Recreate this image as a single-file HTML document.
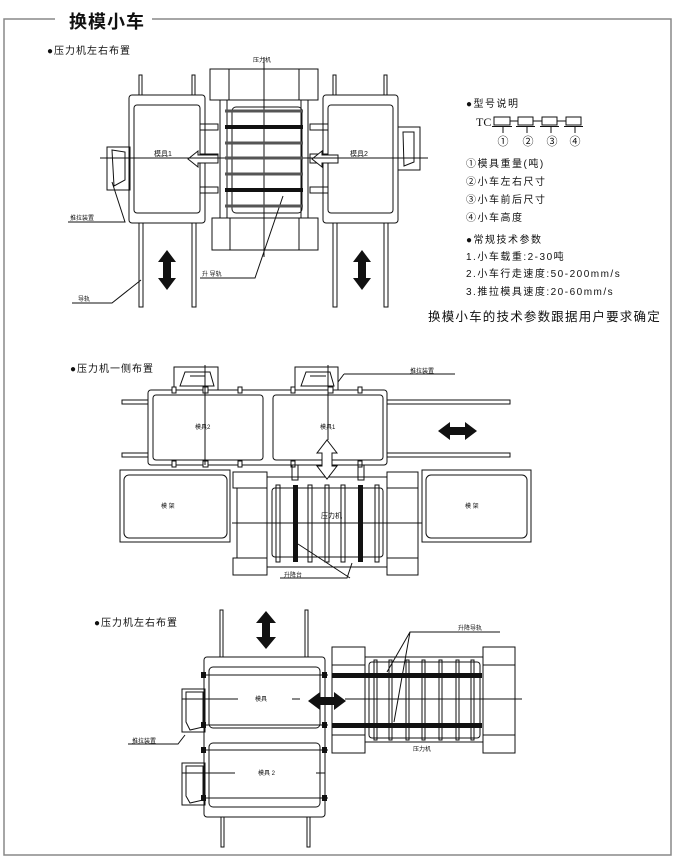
<!DOCTYPE html>
<html><head><meta charset="utf-8"><style>
html,body{margin:0;padding:0;background:#fff;}
svg{display:block;}
text{font-family:"Liberation Sans","Noto Sans CJK SC",sans-serif;fill:#111;}
</style></head><body>
<svg width="676" height="862" viewBox="0 0 676 862" xmlns="http://www.w3.org/2000/svg">
<g fill="none" stroke="#888" stroke-width="1.5">
<path d="M55 19 H4 V855 H671 V19 H152"/>
</g>
<text x="69" y="28" font-size="18" font-weight="bold" letter-spacing="1">换模小车</text>

<!-- ================= Diagram 1 ================= -->
<text x="47" y="54" font-size="10" letter-spacing="1">●压力机左右布置</text>
<g fill="none" stroke="#111" stroke-width="1">
<rect x="139" y="75" width="3" height="20"/><rect x="192" y="75" width="3" height="20"/>
<rect x="139" y="223" width="4" height="84"/><rect x="192" y="223" width="4" height="84"/>
<rect x="129" y="95" width="76" height="128" rx="3"/>
<rect x="134" y="105" width="66" height="108" rx="3"/>
<rect x="333" y="75" width="3" height="20"/><rect x="384" y="75" width="3" height="20"/>
<rect x="333" y="223" width="4" height="84"/><rect x="384" y="223" width="4" height="84"/>
<rect x="323" y="95" width="75" height="128" rx="3"/>
<rect x="328" y="105" width="65" height="108" rx="3"/>
<path d="M107 147 H130 V190 H107 Z M112 150 L125 152 V180 L114 186 Z"/>
<path d="M398 127 H420 V170 H398 Z M403 132 H414 V162 L404 166 Z"/>
<rect x="210" y="69" width="108" height="31"/>
<rect x="210" y="69" width="19" height="31"/><rect x="299" y="69" width="19" height="31"/>
<rect x="212" y="218" width="106" height="32"/>
<rect x="212" y="218" width="18" height="32"/><rect x="299" y="218" width="19" height="32"/>
<rect x="220" y="100" width="7" height="118"/><rect x="301" y="100" width="7" height="118"/>
<rect x="232" y="107" width="70" height="106" rx="4"/>
<rect x="200" y="124" width="18" height="6"/><rect x="200" y="187" width="18" height="6"/>
<rect x="310" y="124" width="18" height="6"/><rect x="310" y="187" width="18" height="6"/>
<rect x="200" y="154" width="18" height="9"/><rect x="310" y="154" width="18" height="9"/>
<path d="M218 155 H198 V151 L188 159 L198 167 V163 H218 Z" fill="#fff"/>
<path d="M338 155 H322 V151 L312 159 L322 167 V163 H338 Z" fill="#fff"/>
<path d="M100 158 H428 M264 57 V257"/>
<path d="M112 182 L125 222 H68 M141 280 L112 303 H72 M283 196 L255 278 H200"/>
</g>
<g stroke="#555" stroke-width="3"><path d="M225 111 H303 M225 143 H303 M225 174 H303 M225 206 H303 M225 158 H303"/></g>
<g stroke="#111" stroke-width="4"><path d="M225 127 H303 M225 190 H303"/></g>
<path d="M167 250 L176 262 H171 V278 H176 L167 290 L158 278 H163 V262 H158 Z" fill="#111"/>
<path d="M362 250 L371 262 H366 V278 H371 L362 290 L353 278 H358 V262 H353 Z" fill="#111"/>
<text x="253" y="62" font-size="6">压力机</text>
<text x="154" y="156" font-size="7">模具1</text>
<text x="350" y="156" font-size="7">模具2</text>
<text x="70" y="220" font-size="6">推拉装置</text>
<text x="78" y="301" font-size="6">导轨</text>
<text x="202" y="276" font-size="6">升  导轨</text>

<!-- info panel -->
<g font-size="10" letter-spacing="1.5">
<text x="466" y="107">●型号说明</text>
<text x="466" y="167">①模具重量(吨)</text>
<text x="466" y="185">②小车左右尺寸</text>
<text x="466" y="203">③小车前后尺寸</text>
<text x="466" y="221">④小车高度</text>
<text x="466" y="243">●常规技术参数</text>
<text x="466" y="260">1.小车载重:2-30吨</text>
<text x="466" y="277">2.小车行走速度:50-200mm/s</text>
<text x="466" y="295">3.推拉模具速度:20-60mm/s</text>
</g>
<text x="476" y="126" font-size="12" style="font-family:'Liberation Serif',serif">TC</text>
<text x="428" y="321" font-size="12.5" letter-spacing="1.2">换模小车的技术参数跟据用户要求确定</text>
<g fill="none" stroke="#111" stroke-width="1">
<rect x="494" y="117" width="16" height="8"/><rect x="518" y="117" width="15" height="8"/><rect x="542" y="117" width="15" height="8"/><rect x="566" y="117" width="15" height="8"/>
<path d="M492 126.5 H512 M516 126.5 H535 M540 126.5 H559 M564 126.5 H583"/>
<path d="M510 121 h8 M533 121 h9 M557 121 h9"/>
<path d="M503 127 v6 M527 127 v6 M551 127 v6 M575 127 v6"/>
</g>
<g font-size="11" text-anchor="middle" style="font-family:'DejaVu Sans',sans-serif"><text x="503" y="145">①</text><text x="528" y="145">②</text><text x="552" y="145">③</text><text x="575" y="145">④</text></g>

<!-- ================= Diagram 2 ================= -->
<text x="70" y="372" font-size="10" letter-spacing="1">●压力机一侧布置</text>
<g fill="none" stroke="#111" stroke-width="1">
<rect x="122" y="400" width="26" height="4"/><rect x="122" y="453" width="26" height="4"/>
<rect x="387" y="400" width="123" height="4"/><rect x="387" y="453" width="123" height="4"/>
<rect x="148" y="390" width="239" height="75" rx="3"/>
<rect x="153" y="395" width="110" height="65" rx="3"/>
<rect x="273" y="395" width="110" height="65" rx="3"/>
<rect x="174" y="367" width="44" height="23"/><path d="M180 386 L185 372 H210 L214 386 Z M190 376 H205"/>
<rect x="295" y="367" width="43" height="23"/><path d="M301 386 L306 372 H330 L334 386 Z M310 376 H326"/>
<g fill="#fff"><rect x="172" y="387" width="4" height="6"/><rect x="203" y="387" width="5" height="6"/><rect x="238" y="387" width="4" height="6"/><rect x="291" y="387" width="4" height="6"/><rect x="328" y="387" width="5" height="6"/><rect x="358" y="387" width="4" height="6"/>
<rect x="172" y="461" width="4" height="6"/><rect x="203" y="461" width="5" height="6"/><rect x="238" y="461" width="4" height="6"/><rect x="291" y="461" width="4" height="6"/><rect x="358" y="461" width="4" height="6"/></g>
<rect x="292" y="465" width="6" height="15"/><rect x="358" y="465" width="6" height="15"/>
<path d="M205 365 V465 M328 365 V440"/>
<rect x="120" y="470" width="110" height="72"/><rect x="124" y="475" width="103" height="63" rx="5"/>
<rect x="422" y="470" width="109" height="72"/><rect x="426" y="475" width="101" height="63" rx="5"/>
<rect x="233" y="472" width="34" height="16"/><rect x="233" y="558" width="34" height="17"/><rect x="237" y="488" width="30" height="70"/>
<rect x="387" y="472" width="31" height="16"/><rect x="387" y="558" width="31" height="17"/><rect x="387" y="488" width="31" height="70"/>
<rect x="267" y="477" width="120" height="90"/>
<rect x="272" y="488" width="111" height="69" rx="3"/>
<path d="M232 523 H422"/>
<g><rect x="276" y="485" width="4" height="77"/><rect x="308" y="485" width="4" height="77"/><rect x="325" y="485" width="4" height="77"/><rect x="341" y="485" width="4" height="77"/><rect x="375" y="485" width="4" height="77"/></g>
<path d="M327 440 L337 453 H332 V466 H337 L327 479 L317 466 H322 V453 H317 Z" fill="#fff"/>
<path d="M344 374 L338 382 M344 374 H455 M298 544 L350 578 M352 563 L347 578 H280"/>
</g>
<rect x="293" y="485" width="5" height="77" fill="#111"/><rect x="358" y="485" width="5" height="77" fill="#111"/>
<path d="M438 431 L450 422 V427 H465 V422 L477 431 L465 440 V435 H450 V440 Z" fill="#111"/>
<text x="195" y="429" font-size="6">模具2</text>
<text x="320" y="429" font-size="6">模具1</text>
<text x="161" y="508" font-size="6">模 架</text>
<text x="465" y="508" font-size="6">模 架</text>
<text x="321" y="518" font-size="7">压力机</text>
<text x="284" y="577" font-size="6">升降台</text>
<text x="410" y="373" font-size="6">推拉装置</text>

<!-- ================= Diagram 3 ================= -->
<text x="94" y="626" font-size="10" letter-spacing="1">●压力机左右布置</text>
<g fill="none" stroke="#111" stroke-width="1">
<rect x="220" y="610" width="3" height="47"/><rect x="305" y="610" width="3" height="47"/>
<rect x="221" y="817" width="3" height="30"/><rect x="307" y="817" width="3" height="30"/>
<rect x="204" y="657" width="121" height="160" rx="3"/>
<rect x="209" y="667" width="111" height="61" rx="4"/>
<rect x="209" y="743" width="111" height="64" rx="4"/>
<path d="M201 675 H328 M201 725 H328 M201 750 H328 M201 798 H328"/>
<rect x="182" y="689" width="23" height="43"/><path d="M186 692 H203 V727 L190 730 L186 722 Z"/>
<rect x="182" y="763" width="23" height="42"/><path d="M186 766 H203 V800 L190 803 L186 796 Z"/>
<path d="M182 699 H238 M292 699 H300 M345 699 H522 M182 773 H235 M316 773 H325"/>
<rect x="332" y="647" width="33" height="18"/><rect x="332" y="735" width="33" height="18"/><rect x="332" y="665" width="33" height="70"/>
<rect x="483" y="647" width="32" height="18"/><rect x="483" y="735" width="32" height="18"/><rect x="483" y="665" width="32" height="70"/>
<rect x="365" y="657" width="118" height="85"/>
<rect x="369" y="662" width="111" height="76" rx="3"/>
<g><rect x="374" y="660" width="3" height="80"/><rect x="389" y="660" width="3" height="80"/><rect x="406" y="660" width="3" height="80"/><rect x="422" y="660" width="3" height="80"/><rect x="439" y="660" width="3" height="80"/><rect x="456" y="660" width="3" height="80"/><rect x="471" y="660" width="3" height="80"/></g>
<path d="M500 632 H410 L387 672 M410 632 L394 722 M185 735 L178 744 H128"/>
</g>
<g fill="#111">
<rect x="332" y="673" width="150" height="5"/><rect x="332" y="723" width="150" height="5"/>
<rect x="201" y="672" width="5" height="6"/><rect x="322" y="672" width="5" height="6"/><rect x="201" y="722" width="5" height="6"/><rect x="322" y="722" width="5" height="6"/>
<rect x="201" y="747" width="5" height="6"/><rect x="322" y="747" width="5" height="6"/><rect x="201" y="795" width="5" height="6"/><rect x="322" y="795" width="5" height="6"/>
<path d="M308 701 L320 692 V697 H334 V692 L346 701 L334 710 V705 H320 V710 Z"/>
<path d="M266 611 L276 623 H270 V637 H276 L266 649 L256 637 H262 V623 H256 Z"/>
</g>
<text x="255" y="701" font-size="6">模具</text>
<text x="258" y="775" font-size="6">模具 2</text>
<text x="458" y="630" font-size="6">升降导轨</text>
<text x="413" y="751" font-size="6">压力机</text>
<text x="132" y="743" font-size="6">推拉装置</text>
</svg>
</body></html>
